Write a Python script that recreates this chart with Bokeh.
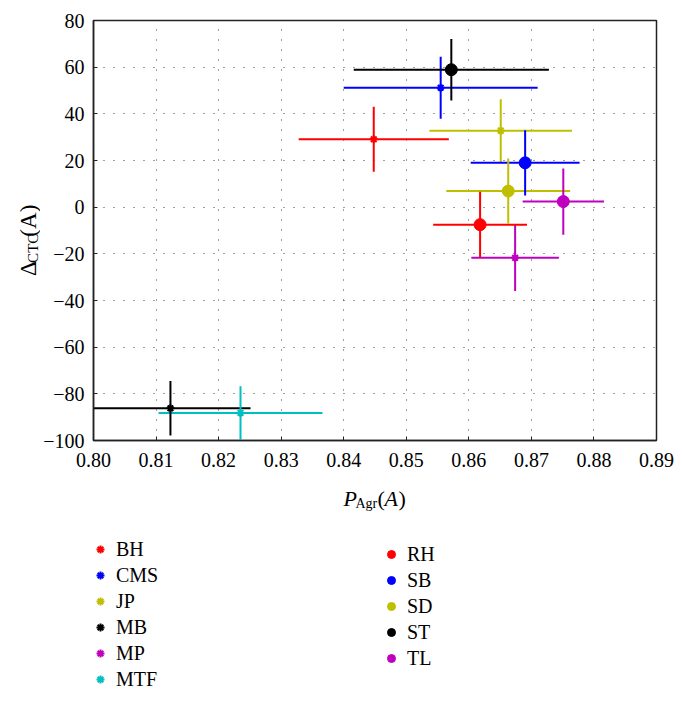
import numpy as np
from bokeh.plotting import figure
from bokeh.layouts import column, row
from bokeh.models import ColumnDataSource, Legend, LegendItem, Label, FixedTicker
from bokeh.embed import file_html
from bokeh.resources import INLINE

# ---- data ----
star_names = ["BH", "CMS", "JP", "MB", "MP", "MTF"]
star_x = [0.8448, 0.8555, 0.8651, 0.8123, 0.8674, 0.8235]
star_xerr = [0.0120, 0.0155, 0.0114, 0.0128, 0.0070, 0.0131]
star_y = [29.1, 51.2, 32.8, -86.2, -21.7, -88.2]
star_yerr = [13.9, 13.3, 13.4, 11.7, 14.2, 11.4]
star_colors = ["#ff0000", "#0000ff", "#bfbf00", "#000000", "#bf00bf", "#00bfbf"]

circ_names = ["RH", "SB", "SD", "ST", "TL"]
circ_x = [0.8618, 0.8690, 0.8663, 0.8572, 0.8751]
circ_xerr = [0.0075, 0.0087, 0.0099, 0.0156, 0.0065]
circ_y = [-7.5, 19.0, 6.9, 58.9, 2.4]
circ_yerr = [14.1, 14.0, 14.0, 13.2, 14.2]
circ_colors = ["#ff0000", "#0000ff", "#bfbf00", "#000000", "#bf00bf"]

x_ticks = [0.80, 0.81, 0.82, 0.83, 0.84, 0.85, 0.86, 0.87, 0.88, 0.89]
x_tick_labels = ["0.80", "0.81", "0.82", "0.83", "0.84", "0.85", "0.86", "0.87", "0.88", "0.89"]
y_ticks = [-100, -80, -60, -40, -20, 0, 20, 40, 60, 80]
y_tick_labels = ["\u2212100", "\u221280", "\u221260", "\u221240", "\u221220", "0", "20", "40", "60", "80"]

FONT = "Liberation Serif"
LEFT_W = 40       # width of the strip holding the y-axis title
TOP_H = 480       # height of the plot row
BOTTOM_H = 221    # height of the strip holding x title and legends

# ---- main plot ----
p = figure(frame_width=563, frame_height=420,
           min_border_left=92 - LEFT_W, min_border_right=27, min_border_top=20, min_border_bottom=40,
           x_range=(0.80, 0.89), y_range=(-100, 80),
           output_backend="svg", toolbar_location=None)
p.background_fill_color = "white"
p.border_fill_color = "white"
p.outline_line_color = "#222222"
p.outline_line_width = 1.5

p.xaxis.ticker = FixedTicker(ticks=x_ticks)
p.yaxis.ticker = FixedTicker(ticks=y_ticks)
p.xaxis.major_label_overrides = dict(zip(x_ticks, x_tick_labels))
p.yaxis.major_label_overrides = dict(zip(y_ticks, y_tick_labels))
for ax in (p.xaxis, p.yaxis):
    ax.major_label_text_font = FONT
    ax.major_label_text_font_size = "20px"
    ax.major_label_text_color = "black"
    ax.axis_line_color = "#222222"
    ax.axis_line_width = 1.5
    ax.major_tick_in = 4
    ax.major_tick_out = 0
    ax.major_tick_line_color = "#222222"
    ax.minor_tick_line_color = None
p.xaxis.major_label_standoff = 12
p.yaxis.major_label_standoff = 9
p.grid.grid_line_color = "black"
p.grid.grid_line_alpha = 0.75
p.grid.grid_line_dash = "1 9"
p.grid.grid_line_width = 1

# ---- strip below (x title + legends), coordinates = page pixels ----
pb = figure(width=682, height=BOTTOM_H, x_range=(0, 682), y_range=(TOP_H + BOTTOM_H, TOP_H),
            min_border_left=0, min_border_right=0, min_border_top=0, min_border_bottom=0,
            x_axis_location=None, y_axis_location=None,
            output_backend="svg", toolbar_location=None)
pb.outline_line_color = None
pb.grid.visible = False

# ---- strip left (y title), coordinates = page pixels ----
pl = figure(width=LEFT_W, height=TOP_H, x_range=(0, LEFT_W), y_range=(TOP_H, 0),
            min_border_left=0, min_border_right=0, min_border_top=0, min_border_bottom=0,
            x_axis_location=None, y_axis_location=None,
            output_backend="svg", toolbar_location=None)
pl.outline_line_color = None
pl.grid.visible = False


def draw_group(xs, xe, ys, ye, colors, marker, size, names):
    xs = np.array(xs); xe = np.array(xe); ys = np.array(ys); ye = np.array(ye)
    src = ColumnDataSource(dict(x=xs, y=ys, x0=xs - xe, x1=xs + xe,
                                y0=ys - ye, y1=ys + ye, c=colors))
    p.segment(x0="x0", y0="y", x1="x1", y1="y", line_color="c", line_width=2, source=src)
    p.segment(x0="x", y0="y0", x1="x", y1="y1", line_color="c", line_width=2, source=src)
    items = []
    for i, n in enumerate(names):
        s = ColumnDataSource(dict(x=[xs[i]], y=[ys[i]]))
        for fig in (p, pb):
            if marker == "circle":
                r = fig.scatter("x", "y", source=s, marker="circle", size=size,
                                fill_color=colors[i], line_color=colors[i])
            else:
                r = fig.scatter("x", "y", source=s, marker="asterisk", size=size,
                                line_color=colors[i], line_width=2)
        items.append(LegendItem(label=n, renderers=[r]))
    return items


star_items = draw_group(star_x, star_xerr, star_y, star_yerr, star_colors, "asterisk", 8, star_names)
circ_items = draw_group(circ_x, circ_xerr, circ_y, circ_yerr, circ_colors, "circle", 12, circ_names)


def make_legend(items, loc):
    lg = Legend(items=items, location=loc, orientation="vertical")
    lg.border_line_color = None
    lg.background_fill_alpha = 0
    lg.padding = 0
    lg.margin = 0
    lg.spacing = 0
    lg.glyph_width = 20
    lg.glyph_height = 26
    lg.label_height = 26
    lg.label_standoff = 6
    lg.label_text_font = FONT
    lg.label_text_font_size = "20px"
    lg.label_text_color = "black"
    lg.inactive_fill_alpha = 0
    pb.add_layout(lg, "center")


# legend location: offset of its bottom-left corner from the strip's bottom-left
make_legend(star_items, (90, 9))
make_legend(circ_items, (381, 30))


def lab(fig, text, x, y, size, style="normal", angle=0.0):
    fig.add_layout(Label(x=x, y=y, text=text,
                         text_font=FONT, text_font_size=size, text_font_style=style,
                         text_color="black", angle=angle, text_baseline="alphabetic",
                         text_align="left"))


# x-axis title: P_Agr(A)
lab(pb, "P", 343, 498, "22px", "italic")
lab(pb, "Agr", 355, 503, "14px")
lab(pb, "(", 377, 498, "22px")
lab(pb, "A", 384, 498, "22px", "italic")
lab(pb, ")", 398, 498, "22px")

# y-axis title: Δ_CTC(A)
lab(pl, "\u0394", 28, 292, "23px", angle=np.pi / 2)
lab(pl, "CTC", 32, 277, "15px", angle=np.pi / 2)
lab(pl, "(A)", 28, 247, "23px", angle=np.pi / 2)

layout = column(row(pl, p, spacing=0), pb, spacing=0)
open("out.html", "w").write(file_html(layout, INLINE))
